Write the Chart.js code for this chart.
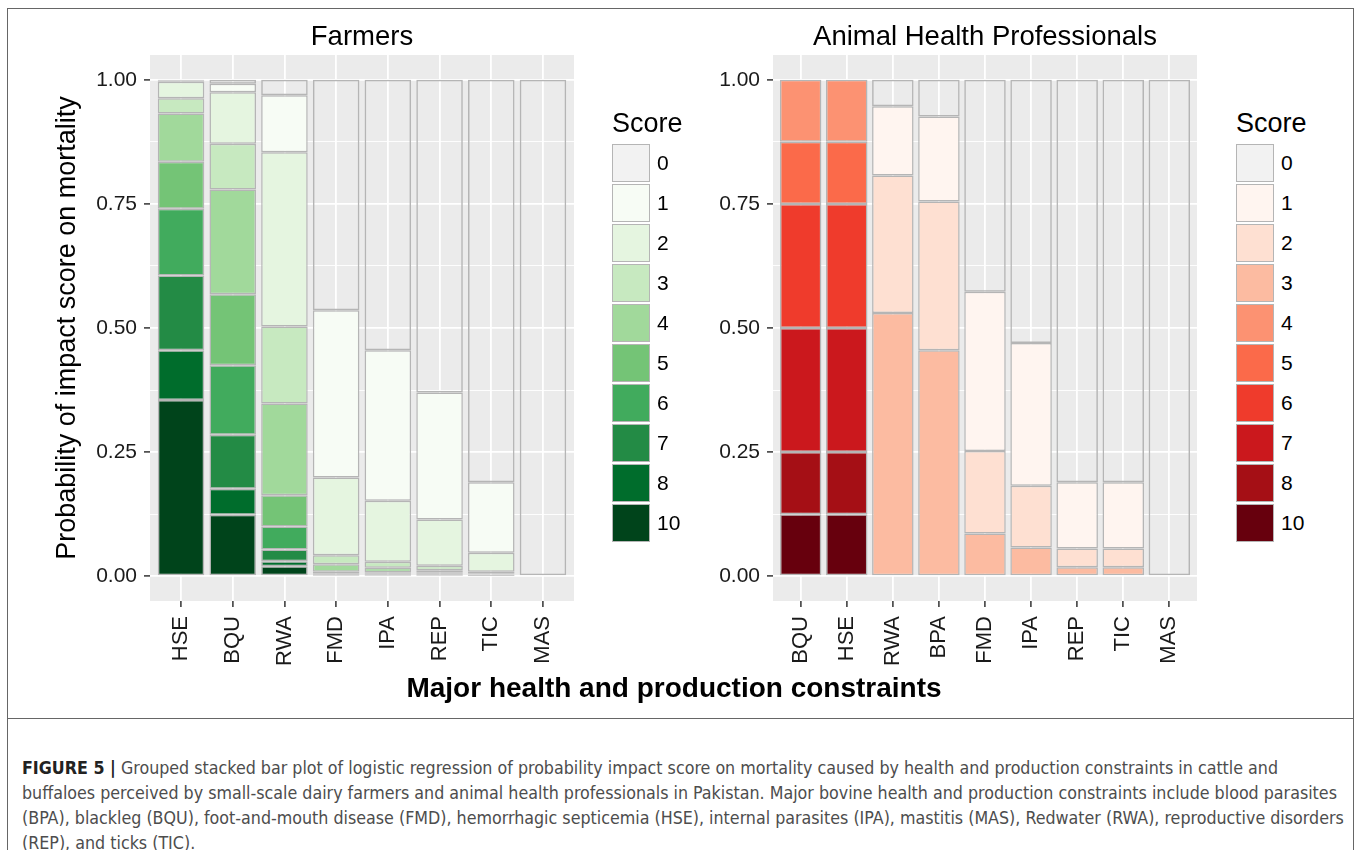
<!DOCTYPE html>
<html>
<head>
<meta charset="utf-8">
<title>Figure 5</title>
<script src="https://cdn.jsdelivr.net/npm/chart.js@4.4.1/dist/chart.umd.min.js"></script>
<style>
  body { margin: 0; background: #fff; width: 1358px; height: 850px; overflow: hidden; position: relative;
         font-family: 'Liberation Sans', Arial, Helvetica, sans-serif; }
  #frame { position: absolute; left: 7px; top: 8px; width: 1347px; height: 900px; border: 1.5px solid #666; box-sizing: border-box; }
  #capline { position: absolute; left: 7px; top: 718px; width: 1347px; border-top: 1.5px solid #666; }
  canvas { position: absolute; top: 0; }
  #cvFarm { left: 0; }
  #cvVet { left: 623px; }
  .legend { position: absolute; top: 106px; color: #000; }
  .lg-title { font-size: 27px; line-height: 34px; height: 37px; }
  .lg-row { height: 40px; display: flex; align-items: center; }
  .lg-key { width: 38px; height: 38px; box-sizing: border-box; border: 1.5px solid #b5b5b5; display: inline-block; }
  .lg-lab { font-size: 21px; margin-left: 7px; }
  #xtitle { position: absolute; left: 0; width: 1348px; top: 672px; text-align: center; font-weight: bold; font-size: 28px; color: #000; }
  #caption { position: absolute; left: 22px; top: 756px; font-family: 'DejaVu Sans Condensed', 'Liberation Sans Narrow', sans-serif;
             font-size: 17.7px; line-height: 25px; color: #4d4d4d; white-space: nowrap; }
  #caption b { color: #222; }
</style>
</head>
<body>
<div id="frame"></div>
<div id="capline"></div>
<canvas id="cvFarm" width="600" height="680"></canvas>
<canvas id="cvVet" width="600" height="680"></canvas>
<div id="legFarm" class="legend" style="left:612px"></div>
<div id="legVet" class="legend" style="left:1236px"></div>
<div id="xtitle">Major health and production constraints</div>
<div id="caption"><b>FIGURE 5 |</b> Grouped stacked bar plot of logistic regression of probability impact score on mortality caused by health and production constraints in cattle and<br>buffaloes perceived by small-scale dairy farmers and animal health professionals in Pakistan. Major bovine health and production constraints include blood parasites<br>(BPA), blackleg (BQU), foot-and-mouth disease (FMD), hemorrhagic septicemia (HSE), internal parasites (IPA), mastitis (MAS), Redwater (RWA), reproductive disorders<br>(REP), and ticks (TIC).</div>

<script>
'use strict';

/* ========================================================
   Data (probabilities)
   ======================================================== */
const scoreLabels = ['0', '1', '2', '3', '4', '5', '6', '7', '8', '10'];
const yMajor = [0, 0.25, 0.5, 0.75, 1];
const yMinor = [0.125, 0.375, 0.625, 0.875];

// Farmers
const farmCats = ['HSE', 'BQU', 'RWA', 'FMD', 'IPA', 'REP', 'TIC', 'MAS'];
const farm0  = [0.002, 0.008, 0.031, 0.464, 0.545, 0.630, 0.811, 1];
const farm1  = [0.002, 0.017, 0.115, 0.337, 0.303, 0.256, 0.142, 0];
const farm2  = [0.033, 0.104, 0.351, 0.157, 0.123, 0.093, 0.038, 0];
const farm3  = [0.031, 0.092, 0.155, 0.018, 0.012, 0.009, 0.003, 0];
const farm4  = [0.097, 0.211, 0.185, 0.015, 0.009, 0.005, 0.002, 0];
const farm5  = [0.095, 0.143, 0.063, 0.003, 0.003, 0.002, 0.001, 0];
const farm6  = [0.134, 0.140, 0.046, 0.002, 0.002, 0.002, 0.001, 0];
const farm7  = [0.151, 0.109, 0.024, 0.002, 0.001, 0.001, 0.001, 0];
const farm8  = [0.100, 0.052, 0.010, 0.001, 0.001, 0.001, 0.0005, 0];
const farm10 = [0.355, 0.124, 0.020, 0.001, 0.001, 0.001, 0.0005, 0];

// Animal health professionals
const vetCats = ['BQU', 'HSE', 'RWA', 'BPA', 'FMD', 'IPA', 'REP', 'TIC', 'MAS'];
const vet0  = [0, 0, 0.053, 0.074, 0.427, 0.530, 0.811, 0.811, 1];
const vet1  = [0, 0, 0.140, 0.171, 0.321, 0.288, 0.133, 0.133, 0];
const vet2  = [0, 0, 0.277, 0.300, 0.166, 0.124, 0.038, 0.038, 0];
const vet3  = [0, 0, 0.530, 0.455, 0.086, 0.058, 0.018, 0.018, 0];
const vet4  = [0.125, 0.125, 0, 0, 0, 0, 0, 0, 0];
const vet5  = [0.125, 0.125, 0, 0, 0, 0, 0, 0, 0];
const vet6  = [0.25, 0.25, 0, 0, 0, 0, 0, 0, 0];
const vet7  = [0.25, 0.25, 0, 0, 0, 0, 0, 0, 0];
const vet8  = [0.125, 0.125, 0, 0, 0, 0, 0, 0, 0];
const vet10 = [0.125, 0.125, 0, 0, 0, 0, 0, 0, 0];

// palettes in score order 0..10 (score 0 has no fill)
const greens = ['rgba(0,0,0,0)', '#f7fcf5', '#e5f5e0', '#c7e9c0', '#a1d99b', '#74c476', '#41ab5d', '#238b45', '#006d2c', '#00441b'];
const reds   = ['rgba(0,0,0,0)', '#fff5f0', '#fee0d2', '#fcbba1', '#fc9272', '#fb6a4a', '#ef3b2c', '#cb181d', '#a50f15', '#67000d'];

const BORDER = '#b5b5b5';
const FONT = "'Liberation Sans', Arial, Helvetica, sans-serif";

/* ========================================================
   Helpers
   ======================================================== */
// grey panel behind the grid, like ggplot's theme_gray
const panelBg = {
  id: 'panelBg',
  beforeDraw(chart) {
    const { ctx, chartArea: a } = chart;
    ctx.save();
    ctx.fillStyle = '#ebebeb';
    ctx.fillRect(a.left, a.top, a.right - a.left, a.bottom - a.top);
    ctx.restore();
  }
};

function buildDatasets(series, palette) {
  // datasets stack bottom-up, so score 10 goes first
  return series.map((vals, i) => ({
    label: scoreLabels[i],
    data: vals.map((v, j) => ({ x: j, y: v > 0 ? v : null })),
    backgroundColor: palette[i],
    borderColor: BORDER,
    borderWidth: 1.5,
    borderSkipped: false,
    barPercentage: 0.9,
    categoryPercentage: 1
  })).reverse();
}

function makeChart(canvasId, cats, series, palette, title, showYTitle) {
  const isMajor = v => yMajor.some(m => Math.abs(m - v) < 1e-9);
  return new Chart(document.getElementById(canvasId), {
    type: 'bar',
    data: { datasets: buildDatasets(series, palette) },
    options: {
      responsive: false,
      animation: false,
      devicePixelRatio: 1,
      layout: { padding: { left: 47, right: 26, top: 17.5, bottom: 0 } },
      plugins: {
        legend: { display: false },
        tooltip: { enabled: false },
        title: {
          display: true, text: title, fullSize: false, color: '#000',
          font: { family: FONT, size: 27.5, weight: 'normal' },
          padding: { top: 3, bottom: 1.5 }
        }
      },
      scales: {
        x: {
          type: 'linear', stacked: true, offset: false,
          min: -0.6, max: cats.length - 0.4,
          afterBuildTicks: s => { s.ticks = cats.map((c, i) => ({ value: i })); },
          afterFit: s => { s.height = 79; },
          border: { display: false },
          grid: { offset: false, color: '#fff', lineWidth: 1.8, tickLength: 6, tickColor: '#333', tickWidth: 1.5 },
          ticks: {
            autoSkip: false, minRotation: 90, maxRotation: 90, padding: 9,
            color: '#1a1a1a', font: { family: FONT, size: 22 },
            callback: v => cats[v]
          }
        },
        y: {
          stacked: true, min: -0.05, max: 1.05,
          afterBuildTicks: s => { s.ticks = yMajor.concat(yMinor).sort((a, b) => a - b).map(v => ({ value: v })); },
          afterFit: s => { s.width = 103; },
          border: { display: false },
          grid: {
            color: '#fff',
            lineWidth: ctx => isMajor(ctx.tick.value) ? 1.8 : 0.9,
            tickLength: 6,
            tickColor: ctx => isMajor(ctx.tick.value) ? '#333' : 'rgba(0,0,0,0)',
            tickWidth: 1.5
          },
          ticks: {
            padding: 7, color: '#1a1a1a', font: { family: FONT, size: 21 },
            callback: v => isMajor(v) ? v.toFixed(2) : ''
          },
          title: {
            display: showYTitle, text: 'Probability of impact score on mortality', color: '#000',
            font: { family: FONT, size: 27 }, padding: { top: 4, bottom: 0 }
          }
        }
      }
    },
    plugins: [panelBg]
  });
}

function buildLegend(elId, palette) {
  const el = document.getElementById(elId);
  el.innerHTML = '<div class="lg-title">Score</div>' + scoreLabels.map((s, i) =>
    `<div class="lg-row"><span class="lg-key" style="background:${i === 0 ? '#f2f2f2' : palette[i]}"></span><span class="lg-lab">${s}</span></div>`
  ).join('');
}

/* ========================================================
   Build
   ======================================================== */
makeChart('cvFarm', farmCats,
  [farm0, farm1, farm2, farm3, farm4, farm5, farm6, farm7, farm8, farm10],
  greens, 'Farmers', true);
makeChart('cvVet', vetCats,
  [vet0, vet1, vet2, vet3, vet4, vet5, vet6, vet7, vet8, vet10],
  reds, 'Animal Health Professionals', false);
buildLegend('legFarm', greens);
buildLegend('legVet', reds);
</script>
</body>
</html>
